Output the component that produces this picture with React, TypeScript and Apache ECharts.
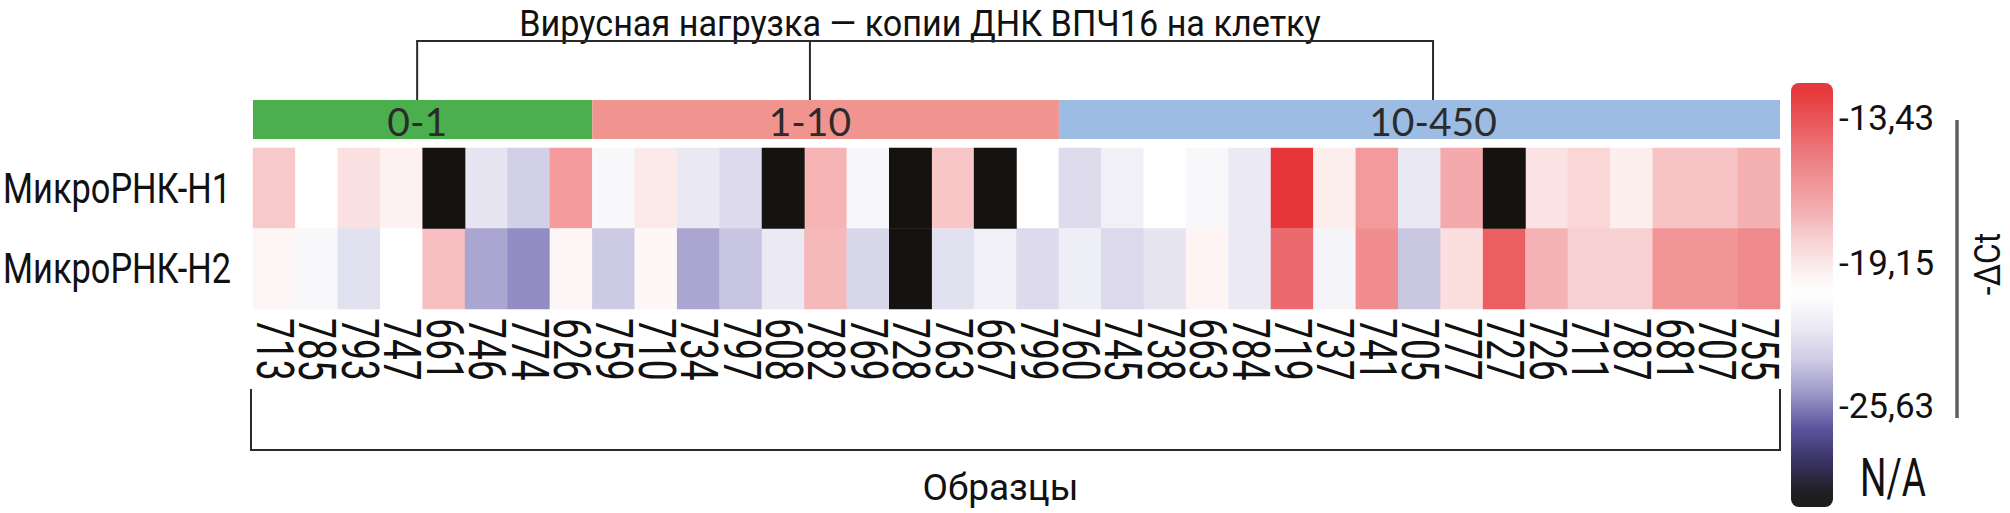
import React, { useEffect, useRef } from 'react';
import * as echarts from 'echarts';

const samples = ['713','785','793','747','661','746','774','626','759','710','734','797','608','782','769','728','763','667','799','760','745','738','663','784','719','737','741','705','777','727','726','711','787','681','707','755'];
const rows = ['МикроРНК-Н1', 'МикроРНК-Н2'];
// -ΔCt values, null = N/A
const h1: (number | null)[] = [-17.9,-19.5,-18.6,-19.1,null,-20.7,-21.6,-16.5,-19.85,-18.9,-20.55,-21.15,null,-17.25,-19.9,null,-17.8,null,-19.5,-21.1,-20.2,-19.5,-19.85,-20.45,-13.43,-19.0,-16.45,-20.6,-16.95,null,-18.65,-18.3,-19.0,-17.7,-17.7,-17.15];
const h2: (number | null)[] = [-19.25,-19.85,-20.85,-19.5,-17.6,-23.45,-24.6,-19.25,-21.85,-19.3,-23.45,-22.1,-20.45,-17.4,-21.3,null,-20.85,-20.2,-21.15,-20.3,-21.2,-20.7,-19.2,-20.45,-15.0,-20.0,-16.05,-22.0,-18.55,-14.65,-17.2,-18.1,-18.1,-16.3,-16.3,-15.95];

const groupNames = ['0-1', '1-10', '10-450'];
const groupStart = [0, 8, 19];
const groupEnd = [7, 18, 35];
const groupLabelPos = [3.87, 13.13, 27.82];
const groupColors = ['#4caf4e', '#f19490', '#9cbce3'];

const colorbarTicks = ['-13,43', '-19,15', '-25,63'];
const colorbarTickY = [118, 263, 406];
const naLabel = 'N/A';
const titleText = 'Вирусная нагрузка — копии ДНК ВПЧ16 на клетку';
const xName = 'Образцы';
const scaleName = '-ΔCt';

const FONT = 'Roboto, sans-serif';

export default function App() {
  const ref = useRef<HTMLDivElement>(null);
  useEffect(() => {
    const el = ref.current!;
    const chart = echarts.init(el, null, { renderer: 'svg' });
    const GRID_L = 253, GRID_T = 148, GRID_W = 1527, GRID_H = 161;
    const BRACKET_Y = 41;
    const main: any[] = [];
    const na: any[] = [];
    [h1, h2].forEach((arr, r) =>
      arr.forEach((v, c) => {
        if (v === null) na.push([c, r, 1]);
        else main.push([c, r, v]);
      })
    );
    const groupData = groupNames.map((n, i) => [groupStart[i], groupEnd[i], groupLabelPos[i], i, 0.5]);
    const labelData = samples.map((s, i) => [i, rows.length - 1]);
    const rowLabelData = rows.map((r, i) => [0, i]);
    const lineStyle = { stroke: '#2a2a2a', lineWidth: 2 };

    const option: any = {
      animation: false,
      grid: [
        { left: GRID_L, top: GRID_T, width: GRID_W, height: GRID_H, outerBoundsMode: 'none', containLabel: false },
        { left: GRID_L, top: 100, width: GRID_W, height: 39, outerBoundsMode: 'none', containLabel: false },
      ],
      xAxis: [
        {
          type: 'category', data: samples, gridIndex: 0, position: 'bottom',
          axisLine: { show: false }, axisTick: { show: false }, splitLine: { show: false },
          axisLabel: { show: false },
          name: xName, nameLocation: 'middle', nameGap: 160,
          nameTextStyle: { fontSize: 37, fontFamily: FONT, color: '#111', padding: [0, 32, 0, 0] },
        },
        { type: 'category', data: samples, gridIndex: 1, show: false },
      ],
      yAxis: [
        {
          type: 'category', data: rows, inverse: true, gridIndex: 0,
          axisLine: { show: false }, axisTick: { show: false }, splitLine: { show: false },
          axisLabel: { show: false },
        },
        { type: 'value', min: 0, max: 1, gridIndex: 1, show: false },
      ],
      visualMap: [
        {
          type: 'continuous', show: false, min: -25.63, max: -13.43, dimension: 2, seriesIndex: 0,
          inRange: { color: ['#7b75b7', '#ffffff', '#e6363a'] },
        },
        {
          type: 'piecewise', show: false, dimension: 2, seriesIndex: 1,
          pieces: [{ value: 1, color: '#15120f' }],
        },
      ],
      series: [
        { type: 'heatmap', xAxisIndex: 0, yAxisIndex: 0, data: main, emphasis: { disabled: true } },
        { type: 'heatmap', xAxisIndex: 0, yAxisIndex: 0, data: na, emphasis: { disabled: true } },
        {
          type: 'custom', xAxisIndex: 1, yAxisIndex: 1, data: groupData, clip: false, silent: true,
          encode: { x: 0, y: 4 },
          renderItem: (params: any, api: any) => {
            const s = api.value(0), e = api.value(1), lp = api.value(2), gi = api.value(3);
            const bw = api.size([1, 0])[0];
            const x0 = api.coord([0, 0])[0] - bw / 2;
            const yTop = api.coord([0, 1])[1];
            const yBot = api.coord([0, 0])[1];
            const xs = x0 + s * bw, xe = x0 + (e + 1) * bw, xl = x0 + lp * bw;
            const children: any[] = [
              { type: 'rect', shape: { x: xs, y: yTop, width: xe - xs, height: yBot - yTop }, style: { fill: groupColors[gi] } },
              { type: 'line', shape: { x1: xl, y1: BRACKET_Y, x2: xl, y2: yTop }, style: lineStyle },
              { type: 'text', style: { text: groupNames[gi], x: xl, y: (yTop + yBot) / 2 + 1, align: 'center', verticalAlign: 'middle', fontSize: 39, fontFamily: 'Lato', fill: '#2b2b2b' } },
            ];
            if (gi === 0) {
              const xLast = x0 + groupLabelPos[groupLabelPos.length - 1] * bw;
              children.push({ type: 'line', shape: { x1: xl - 1, y1: BRACKET_Y, x2: xLast + 1, y2: BRACKET_Y }, style: lineStyle });
            }
            return { type: 'group', children };
          },
        },
        {
          // sample labels (condensed, rotated)
          type: 'custom', xAxisIndex: 0, yAxisIndex: 0, data: labelData, clip: false, silent: true,
          renderItem: (params: any, api: any) => {
            const idx = api.value(0);
            const p = api.coord([idx, api.value(1)]);
            const bh = api.size([0, 1])[1];
            return {
              type: 'text',
              x: p[0], y: p[1] + bh / 2 + 9,
              rotation: -Math.PI / 2, scaleX: 0.73,
              style: { text: samples[idx], align: 'left', verticalAlign: 'middle', fontSize: 51, fontFamily: FONT, fill: '#111' },
            };
          },
        },
        {
          // row labels (condensed)
          type: 'custom', xAxisIndex: 0, yAxisIndex: 0, data: rowLabelData, clip: false, silent: true,
          renderItem: (params: any, api: any) => {
            const ri = api.value(1);
            const p = api.coord([0, ri]);
            const bw = api.size([1, 0])[0];
            return {
              type: 'text',
              x: p[0] - bw / 2 - 22, y: p[1],
              scaleX: 0.8,
              style: { text: rows[ri], align: 'right', verticalAlign: 'middle', fontSize: 43, fontFamily: FONT, fill: '#111' },
            };
          },
        },
      ],
      graphic: [
        { type: 'text', x: 920, y: 24, scaleX: 0.95, style: { text: titleText, align: 'center', verticalAlign: 'middle', fontSize: 36, fontFamily: FONT, fill: '#111' } },
        { type: 'polyline', shape: { points: [[251, 389], [251, 450], [1780, 450], [1780, 389]] }, style: { stroke: '#2a2a2a', lineWidth: 2, fill: 'none' } },
        {
          type: 'rect', shape: { x: 1791, y: 83, width: 42, height: 424, r: 8 },
          style: {
            fill: new echarts.graphic.LinearGradient(0, 0, 0, 1, [
              { offset: 0, color: '#e3393d' },
              { offset: 0.024, color: '#e63a3e' },
              { offset: 0.18, color: '#ed7f83' },
              { offset: 0.3, color: '#f3aeb1' },
              { offset: 0.377, color: '#f8d4d6' },
              { offset: 0.458, color: '#fdf5f5' },
              { offset: 0.495, color: '#ffffff' },
              { offset: 0.575, color: '#ebeaf4' },
              { offset: 0.653, color: '#cfcce5' },
              { offset: 0.731, color: '#9d98c8' },
              { offset: 0.811, color: '#5e56a0' },
              { offset: 0.889, color: '#3a3466' },
              { offset: 0.967, color: '#1f1e22' },
              { offset: 1, color: '#1c1c1c' },
            ]),
          },
        },
        ...colorbarTicks.map((t, i) => ({
          type: 'text', x: 1839, y: colorbarTickY[i],
          style: { text: t, align: 'left', verticalAlign: 'middle', fontSize: 35, fontFamily: FONT, fill: '#111' },
        })),
        { type: 'text', x: 1860, y: 478, scaleX: 0.7, style: { text: naLabel, align: 'left', verticalAlign: 'middle', fontSize: 53, fontFamily: FONT, fill: '#111' } },
        { type: 'line', shape: { x1: 1957, y1: 120, x2: 1957, y2: 418 }, style: { stroke: '#5f5f5f', lineWidth: 3.5 } },
        { type: 'text', x: 1987, y: 264, rotation: Math.PI / 2, scaleX: 0.86, style: { text: scaleName, align: 'center', verticalAlign: 'middle', fontSize: 37, fontFamily: FONT, fill: '#111' } },
      ],
    };
    chart.setOption(option);
    return () => chart.dispose();
  }, []);
  return <div ref={ref} style={{ position: 'fixed', left: 0, top: 0, width: 2010, height: 513, background: '#fff' }} />;
}
